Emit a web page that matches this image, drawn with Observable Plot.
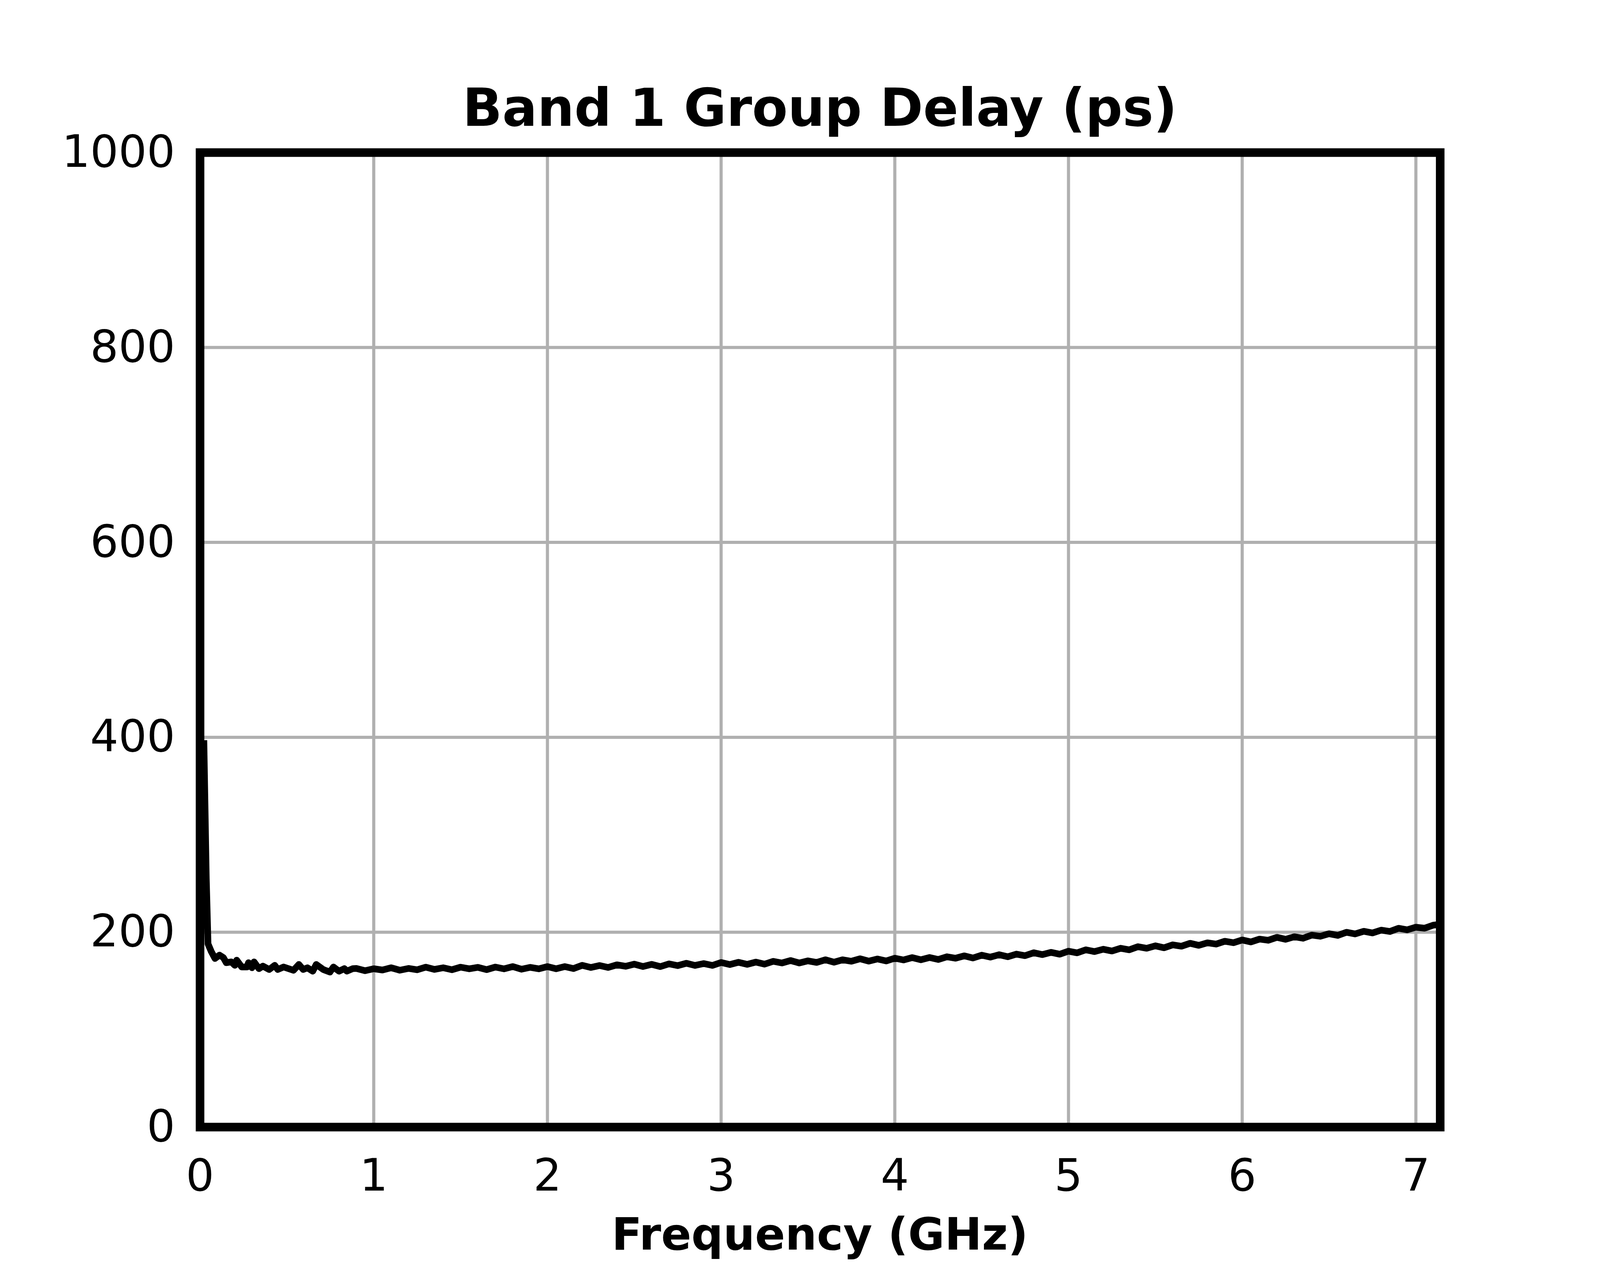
<!DOCTYPE html>
<html><head><meta charset="utf-8">
<script src="https://cdn.jsdelivr.net/npm/d3@7"></script>
<script src="https://cdn.jsdelivr.net/npm/@observablehq/plot@0.6"></script>
<style>
html,body{margin:0;padding:0;background:#fff;overflow:hidden;}
#fig{position:relative;height:3240px;background:#fff;font-family:"DejaVu Sans",sans-serif;overflow:hidden;}
#title{position:absolute;top:209.5px;line-height:133px;font-size:133px;font-weight:bold;text-align:center;white-space:nowrap;color:#000;}
#chart{position:absolute;left:0;top:365px;}
#chart svg{overflow:visible;}
#xlabel{position:absolute;top:3101.6px;line-height:114px;font-size:114px;font-weight:bold;text-align:center;white-space:nowrap;color:#000;}
</style></head>
<body><div id="fig"><div id="title">Band 1 Group Delay (ps)</div><div id="chart"></div><div id="xlabel">Frequency (GHz)</div></div>
<script>
const freqGHz = [
  0.022, 0.036, 0.046, 0.065, 0.086, 0.112, 0.134, 0.151, 0.180, 0.200,
  0.211, 0.240, 0.270, 0.279, 0.299, 0.311, 0.339, 0.362, 0.398, 0.430,
  0.447, 0.481, 0.538, 0.569, 0.594, 0.618, 0.649, 0.669, 0.709, 0.748,
  0.768, 0.800, 0.831, 0.845, 0.879,
  0.90, 0.95, 1.00, 1.05, 1.10, 1.15, 1.20, 1.25, 1.30, 1.35,
  1.40, 1.45, 1.50, 1.55, 1.60, 1.65, 1.70, 1.75, 1.80, 1.85,
  1.90, 1.95, 2.00, 2.05, 2.10, 2.15, 2.20, 2.25, 2.30, 2.35,
  2.40, 2.45, 2.50, 2.55, 2.60, 2.65, 2.70, 2.75, 2.80, 2.85,
  2.90, 2.95, 3.00, 3.05, 3.10, 3.15, 3.20, 3.25, 3.30, 3.35,
  3.40, 3.45, 3.50, 3.55, 3.60, 3.65, 3.70, 3.75, 3.80, 3.85,
  3.90, 3.95, 4.00, 4.05, 4.10, 4.15, 4.20, 4.25, 4.30, 4.35,
  4.40, 4.45, 4.50, 4.55, 4.60, 4.65, 4.70, 4.75, 4.80, 4.85,
  4.90, 4.95, 5.00, 5.05, 5.10, 5.15, 5.20, 5.25, 5.30, 5.35,
  5.40, 5.45, 5.50, 5.55, 5.60, 5.65, 5.70, 5.75, 5.80, 5.85,
  5.90, 5.95, 6.00, 6.05, 6.10, 6.15, 6.20, 6.25, 6.30, 6.35,
  6.40, 6.45, 6.50, 6.55, 6.60, 6.65, 6.70, 6.75, 6.80, 6.85,
  6.90, 6.95, 7.00, 7.05, 7.10, 7.14
];
const delayPs = [
  397.0, 255.0, 188.0, 180.0, 173.0, 176.5, 174.0, 168.7, 169.5, 166.0,
  171.3, 164.3, 164.3, 168.7, 163.5, 169.5, 162.6, 165.2, 161.7, 166.0,
  161.7, 164.3, 160.9, 166.9, 161.7, 163.5, 160.0, 166.9, 161.7, 159.1,
  164.3, 160.0, 162.6, 160.0, 162.6,
  162.8, 160.5, 162.5, 161.2, 163.5, 161.0, 162.8, 161.4, 164.1, 161.8,
  163.5, 161.5, 164.1, 162.4, 163.9, 161.6, 164.2, 162.4, 164.7, 162.0,
  163.9, 162.4, 164.7, 162.5, 164.7, 162.7, 166.0, 163.8, 165.8, 163.8,
  166.5, 165.0, 167.2, 164.8, 167.0, 164.7, 167.5, 165.7, 168.1, 165.9,
  167.8, 165.9, 168.9, 166.8, 169.1, 167.0, 169.3, 167.2, 170.1, 168.4,
  170.9, 168.4, 170.6, 169.0, 171.7, 169.2, 171.7, 170.2, 172.7, 170.3,
  172.5, 170.5, 173.3, 171.5, 173.9, 171.7, 174.0, 172.0, 174.8, 173.3,
  175.7, 173.5, 176.4, 174.4, 176.9, 174.8, 177.5, 175.9, 178.9, 177.0,
  179.3, 177.4, 180.5, 178.8, 181.9, 180.1, 182.5, 180.7, 183.5, 181.9,
  185.1, 183.5, 186.0, 184.0, 187.0, 185.6, 188.6, 186.5, 189.1, 187.8,
  190.7, 189.2, 192.0, 190.0, 192.9, 191.7, 194.7, 192.7, 195.3, 193.8,
  197.0, 195.8, 198.4, 196.7, 199.9, 198.2, 200.9, 199.2, 202.1, 200.7,
  204.0, 202.4, 205.1, 204.1, 207.2, 208.0
];
const xTicks = [0, 1, 2, 3, 4, 5, 6, 7];
const yTicks = [0, 200, 400, 600, 800, 1000];

const data = freqGHz.map((f, i) => ({f, d: delayPs[i]}));

// The reference is 5400 px wide; fit the layout to the actual viewport width.
const W = Math.min(5400, document.documentElement.clientWidth || window.innerWidth || 5400);
const sx = W / 5400;
const mLeft = 674.5 * sx, mRight = 540 * sx;

const fig = document.getElementById("fig");
fig.style.width = W + "px";
for (const id of ["title", "xlabel"]) {
  const el = document.getElementById(id);
  el.style.left = mLeft + "px";
  el.style.width = (W - mLeft - mRight) + "px";
}

const chart = Plot.plot({
  width: W,
  height: 2740,
  marginLeft: mLeft,
  marginRight: mRight,
  marginTop: 25,
  marginBottom: 221,
  style: {fontFamily: '"DejaVu Sans", sans-serif', fontSize: "114px", background: "#fff", color: "#000", overflow: "visible"},
  x: {domain: [0, 7.14]},
  y: {domain: [0, 1000]},
  marks: [
    Plot.gridX(xTicks, {stroke: "#b0b0b0", strokeOpacity: 1, strokeWidth: 8}),
    Plot.gridY(yTicks, {stroke: "#b0b0b0", strokeOpacity: 1, strokeWidth: 8}),
    Plot.line(data, {x: "f", y: "d", stroke: "#000", strokeWidth: 17, strokeLinejoin: "round", strokeLinecap: "butt", clip: true}),
    Plot.frame({stroke: "#000", strokeWidth: 22}),
    Plot.axisX(xTicks, {tickSize: 0, tickPadding: 82, fontSize: 114, label: null, tickFormat: d => String(d)}),
    Plot.axisY(yTicks, {tickSize: 0, tickPadding: 84 * sx, fontSize: 114, label: null, tickFormat: d => String(d)})
  ]
});
document.getElementById("chart").appendChild(chart);
</script>
</body></html>
